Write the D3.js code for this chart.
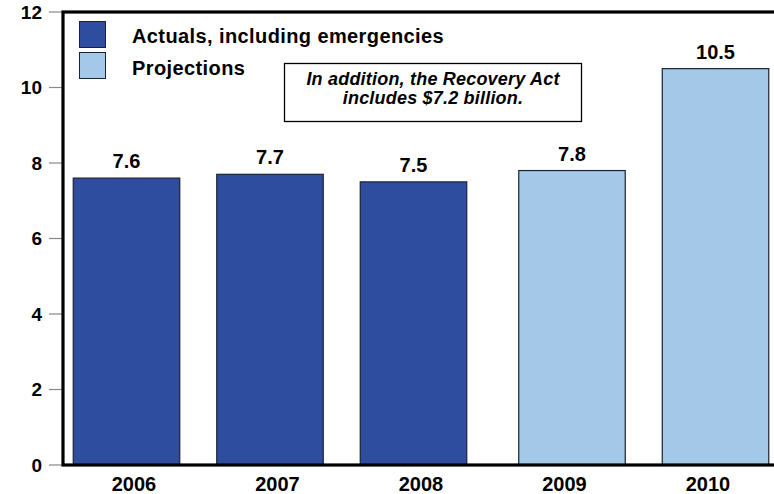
<!DOCTYPE html>
<html><head><meta charset="utf-8">
<script src="https://cdn.jsdelivr.net/npm/d3@7"></script>
<style>body{margin:0;background:#fff}svg{display:block}text{font-family:Arial,"Liberation Sans",sans-serif;font-weight:bold}</style>
</head><body><svg id="c" width="774" height="494"></svg>
<script>
const years = ["2006","2007","2008","2009","2010"];
const values = [7.6, 7.7, 7.5, 7.8, 10.5];
const kinds = ["Actuals","Actuals","Actuals","Projections","Projections"];
const yTicks = [0,2,4,6,8,10,12];
const legendLabels = ["Actuals, including emergencies","Projections"];
const colors = {Actuals:"#2E4D9F", Projections:"#A3C8E8"};
const noteLines = ["In addition, the Recovery Act","includes $7.2 billion."];

(function(){
const svg = d3.select("#c");
const mL = 63, mR = 780, mT = 12, mB = 465;
const y = d3.scaleLinear().domain([0,12]).range([mB, mT]);
const x = d3.scalePoint().domain(years).range([134, 708]);
const groupShift = {Actuals:-7.5, Projections:7.5};
const bw = 106.5;

svg.append("g").selectAll("line").data(yTicks).join("line")
  .attr("x1",49).attr("x2",mL).attr("y1",d=>y(d)).attr("y2",d=>y(d))
  .attr("stroke","#888").attr("stroke-width",1.2);
svg.append("g").selectAll("text").data(yTicks).join("text")
  .attr("x",42).attr("y",d=>y(d)).attr("dy","0.36em").attr("text-anchor","end")
  .attr("font-size",19).text(d=>d);

const data = years.map((yr,i)=>({yr, v:values[i], k:kinds[i]}));

svg.append("g").selectAll("rect").data(data).join("rect")
  .attr("x",d=>x(d.yr)+groupShift[d.k]-bw/2).attr("width",bw)
  .attr("y",d=>y(d.v)).attr("height",d=>y(0)-y(d.v))
  .attr("fill",d=>colors[d.k]).attr("stroke","#1c2233").attr("stroke-width",1.2);

svg.append("g").selectAll("text").data(data).join("text")
  .attr("x",d=>x(d.yr)+groupShift[d.k]).attr("y",d=>y(d.v)-10)
  .attr("text-anchor","middle").attr("font-size",20).text(d=>d.v.toFixed(1));

svg.append("g").selectAll("text").data(data).join("text")
  .attr("x",d=>x(d.yr)).attr("y",491)
  .attr("text-anchor","middle").attr("font-size",20).text(d=>d.yr);

svg.append("rect").attr("x",mL).attr("y",mT).attr("width",mR-mL).attr("height",mB-mT)
  .attr("fill","none").attr("stroke","#000").attr("stroke-width",3.2);

const lg = svg.append("g");
legendLabels.forEach((t,i)=>{
  lg.append("rect").attr("x",79.5).attr("y",21.5+i*31).attr("width",26).attr("height",26)
    .attr("fill",i===0?colors.Actuals:colors.Projections).attr("stroke","#1c2233").attr("stroke-width",1);
  lg.append("text").attr("x",132).attr("y",42.5+i*32).attr("font-size",20)
    .attr("letter-spacing",0.4).text(t);
});

svg.append("rect").attr("x",284.5).attr("y",63.5).attr("width",297).attr("height",58)
  .attr("fill","#fff").attr("stroke","#000").attr("stroke-width",1.3);
noteLines.forEach((t,i)=>{
  svg.append("text").attr("x",433).attr("y",84.5+i*19).attr("text-anchor","middle")
    .attr("font-size",18).attr("letter-spacing",0.2).attr("font-style","italic").text(t);
});
})();
</script></body></html>
